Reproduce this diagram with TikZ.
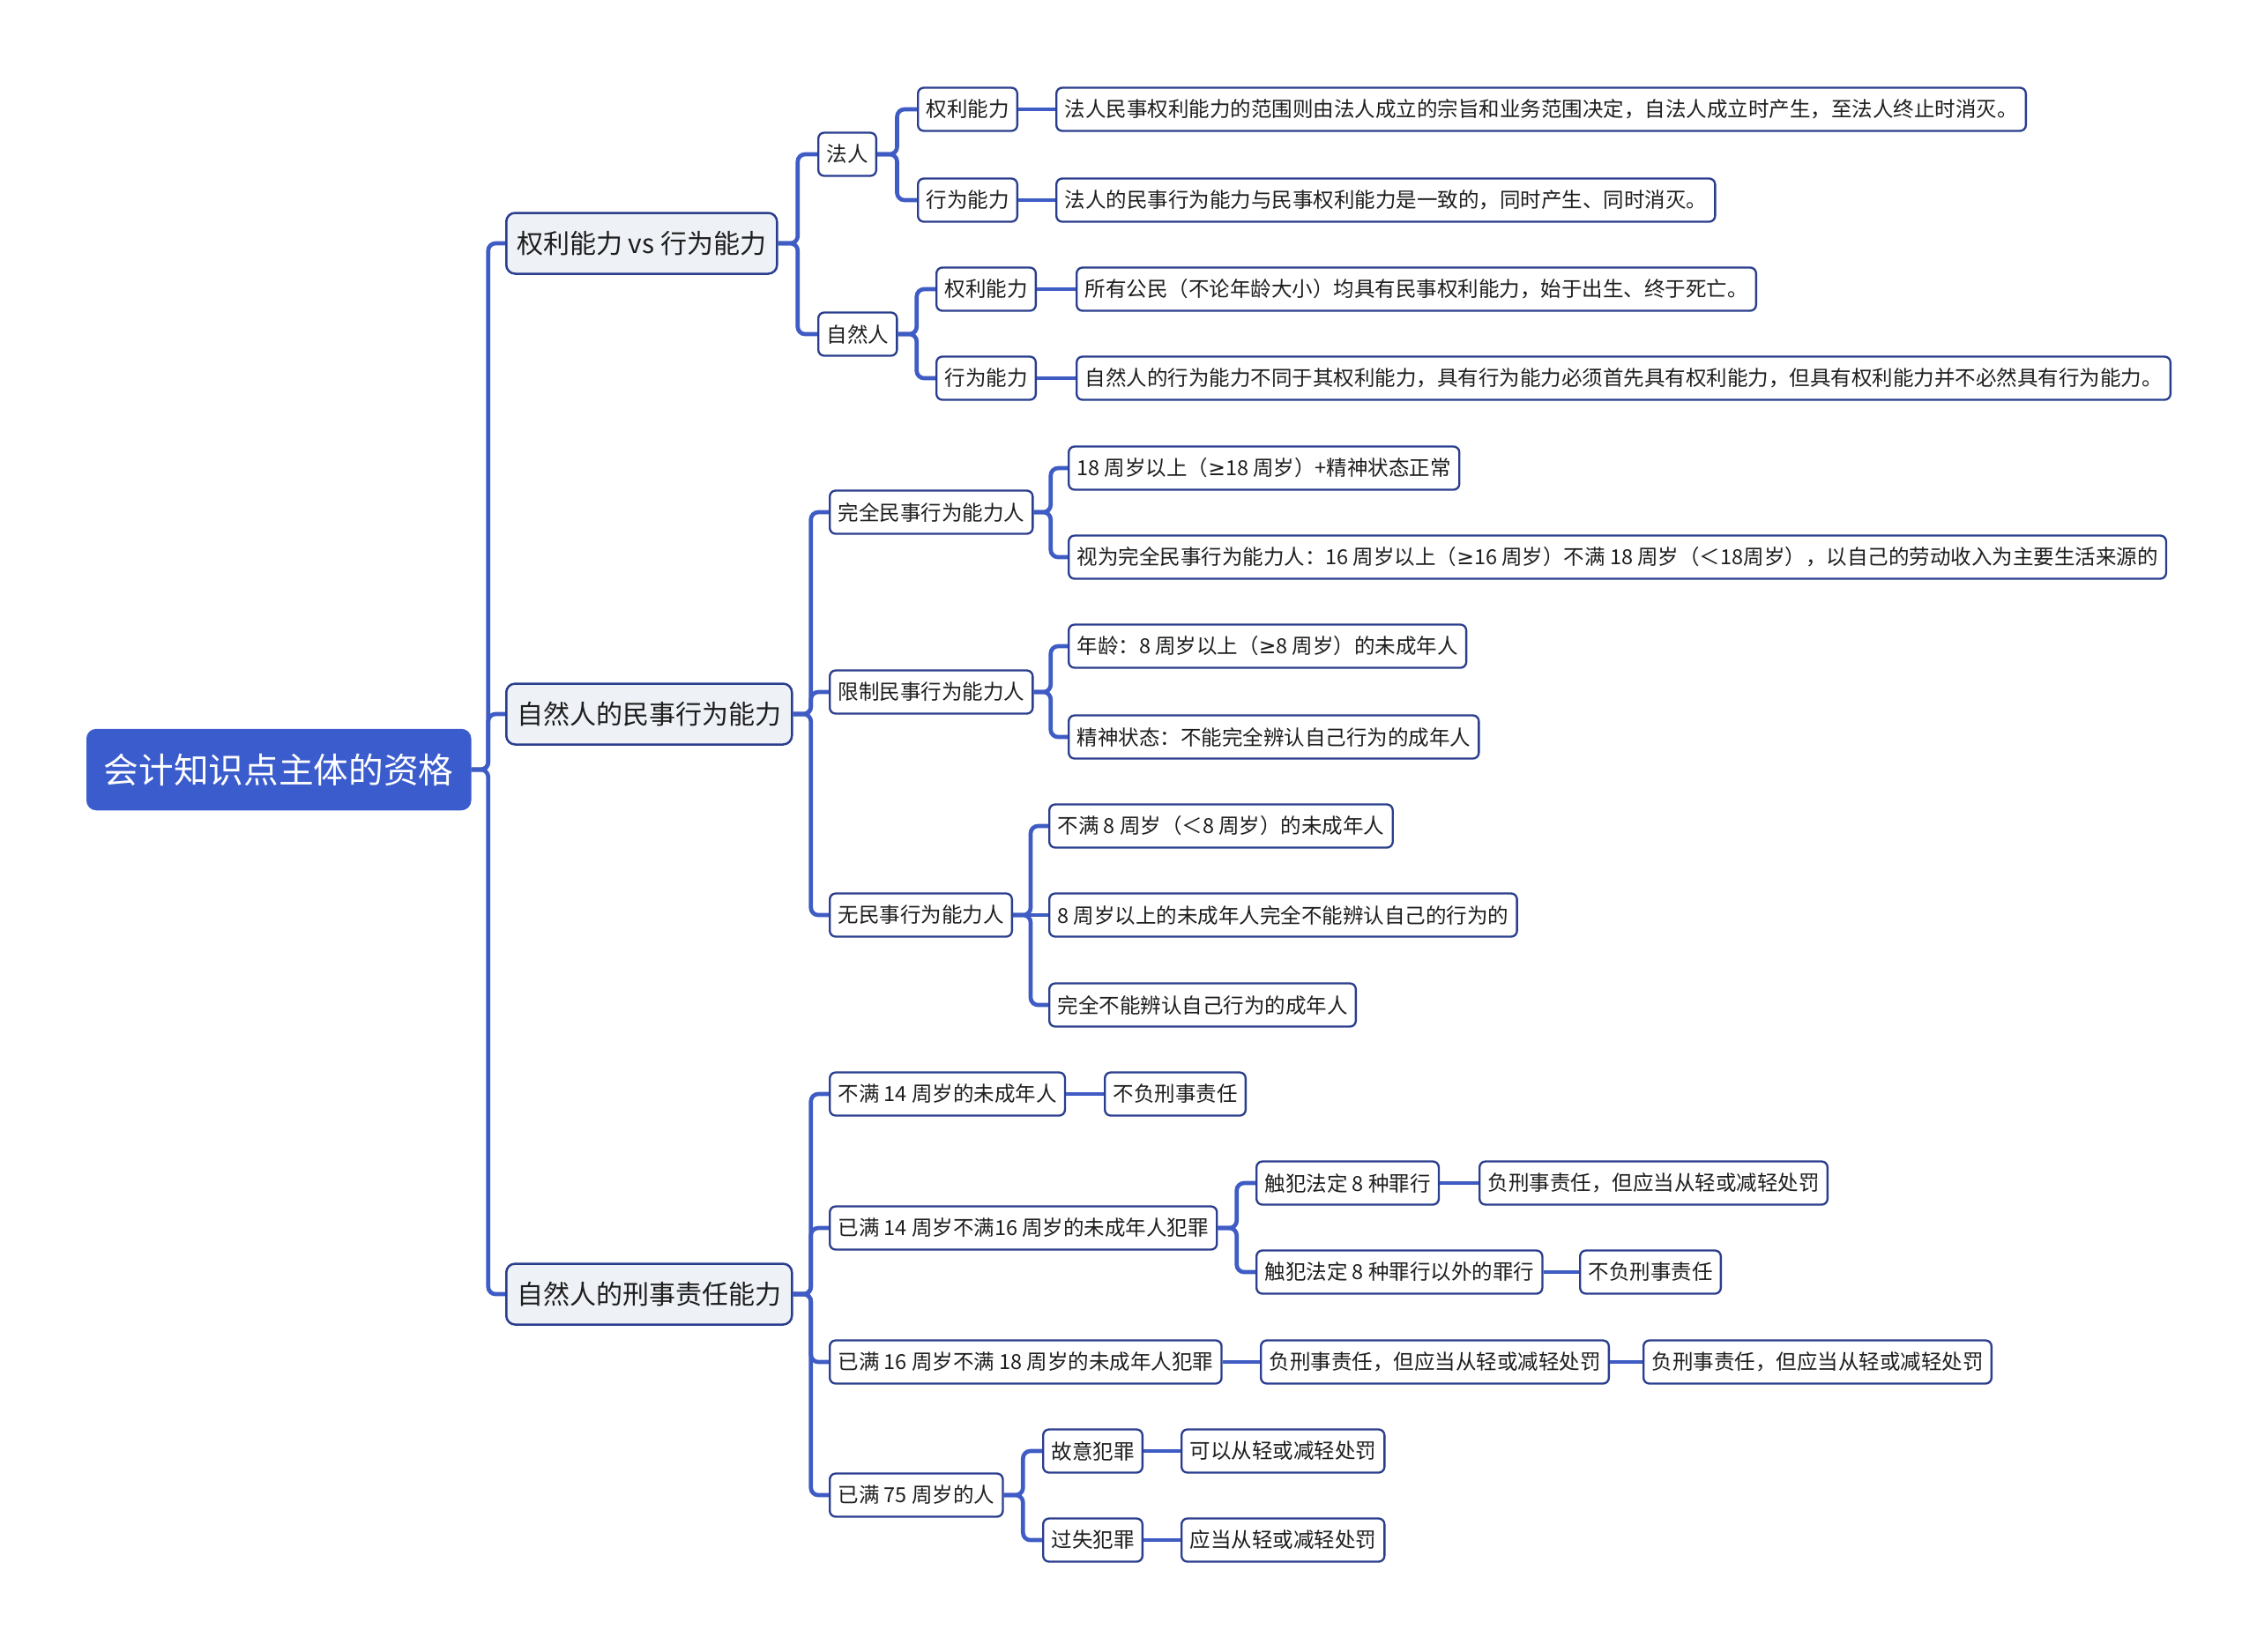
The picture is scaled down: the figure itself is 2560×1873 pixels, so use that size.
\documentclass[tikz,border=0pt]{standalone}
\usepackage{fontspec}
\setmainfont{Noto Sans CJK SC}
\newfontfamily\symfont{DejaVu Sans}
\newcommand\gesym{{\symfont ≥}}
\usetikzlibrary{calc}

\definecolor{rootblue}{RGB}{59,92,204}
\definecolor{linkblue}{RGB}{62,92,196}
\definecolor{boxline}{RGB}{42,62,142}
\definecolor{topicfill}{RGB}{238,241,246}
\definecolor{txt}{RGB}{30,30,30}

\tikzset{
  rootnode/.style={anchor=west, draw=rootblue, fill=rootblue, text=white, rounded corners=3pt,
    font=\fontsize{11.9}{14}\selectfont, minimum height=27pt, inner xsep=5.6pt, line width=0.75pt},
  topic/.style={anchor=west, draw=boxline, fill=topicfill, text=txt, rounded corners=3pt,
    font=\fontsize{9}{11}\selectfont, minimum height=20.7pt, inner xsep=3.6pt, line width=0.75pt},
  leaf/.style={anchor=west, draw=boxline, fill=white, text=txt, rounded corners=2pt,
    font=\fontsize{7.05}{9}\selectfont, minimum height=14.7pt, inner xsep=2.8pt, line width=0.7pt},
  link/.style={draw=linkblue, line width=1.4pt, rounded corners=2.5pt},
  elbow/.style={to path={(\tikztostart) -- ($(\tikztostart)!0.5!(\tikztostart -| \tikztotarget)$) |- (\tikztotarget)}}
}

\begin{document}
\begin{tikzpicture}[x=0.3pt,y=-0.3pt]
\useasboundingbox (0,0) rectangle (2560,1873);

% root and main topics
\node[rootnode] (root) at (98,873) {会计知识点主体的资格};
\node[topic] (ra) at (573,276) {权利能力 vs 行为能力};
\node[topic] (nb) at (573,810) {自然人的民事行为能力};
\node[topic] (nc) at (573,1468) {自然人的刑事责任能力};

% 权利能力 vs 行为能力
\node[leaf] (fr) at (927,175) {法人};
\node[leaf] (fra) at (1040,124) {权利能力};
\node[leaf] (frat) at (1197,124) {法人民事权利能力的范围则由法人成立的宗旨和业务范围决定，自法人成立时产生，至法人终止时消灭。};
\node[leaf] (frb) at (1040,227) {行为能力};
\node[leaf] (frbt) at (1197,227) {法人的民事行为能力与民事权利能力是一致的，同时产生、同时消灭。};
\node[leaf] (zr) at (927,379) {自然人};
\node[leaf] (zra) at (1061,328) {权利能力};
\node[leaf] (zrat) at (1220,328) {所有公民（不论年龄大小）均具有民事权利能力，始于出生、终于死亡。};
\node[leaf] (zrb) at (1061,429) {行为能力};
\node[leaf] (zrbt) at (1220,429) {自然人的行为能力不同于其权利能力，具有行为能力必须首先具有权利能力，但具有权利能力并不必然具有行为能力。};

% 自然人的民事行为能力
\node[leaf] (b1) at (940,581) {完全民事行为能力人};
\node[leaf] (b11) at (1211,531) {18 周岁以上（\gesym18 周岁）+精神状态正常};
\node[leaf] (b12) at (1211,632) {视为完全民事行为能力人：16 周岁以上（\gesym16 周岁）不满 18 周岁（＜18周岁），以自己的劳动收入为主要生活来源的};
\node[leaf] (b2) at (940,785) {限制民事行为能力人};
\node[leaf] (b21) at (1211,733) {年龄：8 周岁以上（\gesym8 周岁）的未成年人};
\node[leaf] (b22) at (1211,836) {精神状态：不能完全辨认自己行为的成年人};
\node[leaf] (b3) at (940,1038) {无民事行为能力人};
\node[leaf] (b31) at (1189,937) {不满 8 周岁（＜8 周岁）的未成年人};
\node[leaf] (b32) at (1189,1038) {8 周岁以上的未成年人完全不能辨认自己的行为的};
\node[leaf] (b33) at (1189,1140) {完全不能辨认自己行为的成年人};

% 自然人的刑事责任能力
\node[leaf] (c1) at (940,1241) {不满 14 周岁的未成年人};
\node[leaf] (c1a) at (1252,1241) {不负刑事责任};
\node[leaf] (c2) at (940,1393) {已满 14 周岁不满16 周岁的未成年人犯罪};
\node[leaf] (c2a) at (1424,1342) {触犯法定 8 种罪行};
\node[leaf] (c2aa) at (1677,1342) {负刑事责任，但应当从轻或减轻处罚};
\node[leaf] (c2b) at (1424,1443) {触犯法定 8 种罪行以外的罪行};
\node[leaf] (c2ba) at (1791,1443) {不负刑事责任};
\node[leaf] (c3) at (940,1545) {已满 16 周岁不满 18 周岁的未成年人犯罪};
\node[leaf] (c3a) at (1429,1545) {负刑事责任，但应当从轻或减轻处罚};
\node[leaf] (c3aa) at (1863,1545) {负刑事责任，但应当从轻或减轻处罚};
\node[leaf] (c4) at (940,1696) {已满 75 周岁的人};
\node[leaf] (c4a) at (1182,1646) {故意犯罪};
\node[leaf] (c4aa) at (1339,1646) {可以从轻或减轻处罚};
\node[leaf] (c4b) at (1182,1747) {过失犯罪};
\node[leaf] (c4ba) at (1339,1747) {应当从轻或减轻处罚};

% connectors: branching
\foreach \p/\c in {root/ra, root/nb, root/nc,
    ra/fr, ra/zr, fr/fra, fr/frb, zr/zra, zr/zrb,
    nb/b1, nb/b2, nb/b3, b1/b11, b1/b12, b2/b21, b2/b22, b3/b31, b3/b33,
    nc/c1, nc/c2, nc/c3, nc/c4, c2/c2a, c2/c2b, c4/c4a, c4/c4b}{
  \draw[link] (\p.east) to[elbow] (\c.west);
}
% connectors: straight
\foreach \p/\c in {fra/frat, frb/frbt, zra/zrat, zrb/zrbt, b3/b32,
    c1/c1a, c2a/c2aa, c2b/c2ba, c3/c3a, c3a/c3aa, c4a/c4aa, c4b/c4ba}{
  \draw[link] (\p.east) -- (\c.west);
}
\end{tikzpicture}
\end{document}
